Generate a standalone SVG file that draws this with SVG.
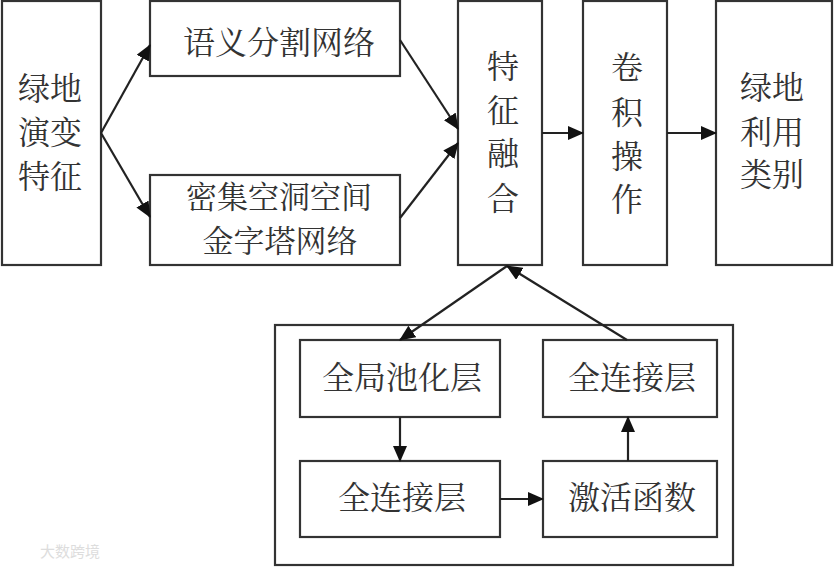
<svg xmlns="http://www.w3.org/2000/svg" width="834" height="567" viewBox="0 0 834 567">
<style>
rect{fill:#fff;stroke:#333;stroke-width:2.2}
text{font-family:"Noto Serif CJK SC","Noto Sans CJK SC",serif;font-size:32px;fill:#333;text-anchor:middle}
.s{font-size:31px}
.c line{stroke:#222;stroke-width:2.2;marker-end:url(#a)}
.wm{font-family:"Noto Sans CJK SC",sans-serif;font-size:15px;fill:#ddd;text-anchor:start}
</style>
<defs>
<marker id="a" markerUnits="userSpaceOnUse" markerWidth="16" markerHeight="14" refX="15" refY="7" orient="auto">
<path d="M0,0 L16,7 L0,14 Z" fill="#111"/>
</marker>
</defs>
<rect x="0" y="0" width="834" height="567" style="fill:#fff;stroke:none"/>
<g id="n1"><rect x="2" y="1" width="99" height="264"/><text x="50" y="100">绿地</text><text x="50" y="144">演变</text><text x="50" y="188">特征</text></g>
<g id="n2"><rect x="150" y="1" width="250" height="75"/><text x="279" y="54">语义分割网络</text></g>
<g id="n3"><rect x="150" y="175" width="250" height="90"/><text class="s" x="279" y="208">密集空洞空间</text><text class="s" x="280" y="252">金字塔网络</text></g>
<g id="n4"><rect x="458" y="1" width="84" height="264"/><text x="503" y="78">特</text><text x="503" y="122">征</text><text x="503" y="165">融</text><text x="503" y="210">合</text></g>
<g id="n5"><rect x="583" y="1" width="84" height="264"/><text x="627" y="79">卷</text><text x="627" y="124">积</text><text x="627" y="168">操</text><text x="627" y="211">作</text></g>
<g id="n6"><rect x="716" y="1" width="116" height="264"/><text x="772" y="99">绿地</text><text x="772" y="144">利用</text><text x="772" y="186">类别</text></g>
<g id="n7"><rect x="275" y="325" width="458" height="240"/></g>
<g id="n8"><rect x="300" y="340" width="200" height="77"/><text x="402" y="389">全局池化层</text></g>
<g id="n9"><rect x="543" y="340" width="174" height="77"/><text x="632" y="389">全连接层</text></g>
<g id="n10"><rect x="300" y="461" width="200" height="76"/><text x="402" y="509">全连接层</text></g>
<g id="n11"><rect x="543" y="461" width="174" height="76"/><text x="632" y="509">激活函数</text></g>
<g class="c" id="connectors">
<line x1="101" y1="133" x2="150" y2="45"/>
<line x1="101" y1="133" x2="150" y2="217"/>
<line x1="400" y1="40" x2="458" y2="129"/>
<line x1="400" y1="218" x2="458" y2="143"/>
<line x1="542" y1="133" x2="583" y2="133"/>
<line x1="667" y1="133" x2="716" y2="133"/>
<line x1="507" y1="266" x2="400" y2="340"/>
<line x1="627" y1="340" x2="507" y2="266"/>
<line x1="400" y1="417" x2="400" y2="461"/>
<line x1="500" y1="499" x2="543" y2="499"/>
<line x1="628" y1="461" x2="628" y2="417"/>
</g>
<text class="wm" x="40" y="557">大数跨境</text>
</svg>
